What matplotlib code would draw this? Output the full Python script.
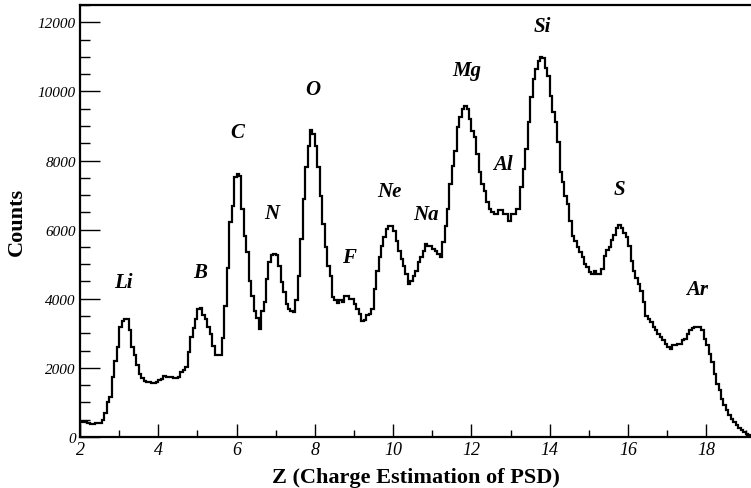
import numpy as np
import matplotlib.pyplot as plt
from matplotlib.ticker import MultipleLocator

plt.rcParams['font.family'] = ['Liberation Serif', 'DejaVu Serif']

# histogram of reconstructed charge, bins of 1/16 starting at Z = 2
z_start = 2.0
bin_width = 1 / 16
counts = [
    430, 440, 420, 400, 390, 390, 400, 410, 410, 480, 700, 1000, 1150, 1740, 2200, 2600,          # Z 2
    3190, 3350, 3420, 3400, 3110, 2600, 2360, 2090, 1830, 1700, 1630, 1600, 1600, 1570, 1560, 1600,  # Z 3
    1650, 1690, 1770, 1750, 1730, 1740, 1700, 1720, 1750, 1880, 1950, 2030, 2460, 2900, 3150, 3420,  # Z 4
    3700, 3730, 3530, 3400, 3190, 2990, 2640, 2380, 2360, 2380, 2860, 3800, 4900, 6210, 6675, 7510,  # Z 5
    7600, 7550, 6600, 5830, 5350, 4500, 4090, 3660, 3440, 3130, 3660, 3900, 4575, 5060, 5270, 5300,  # Z 6
    5280, 4960, 4480, 4190, 3850, 3690, 3640, 3620, 3950, 4670, 5730, 6890, 7800, 8430, 8890, 8770,  # Z 7
    8430, 7800, 6980, 6160, 5490, 4960, 4670, 4050, 3950, 3880, 3950, 3900, 4090, 4090, 4000, 4000,  # Z 8
    3850, 3700, 3560, 3370, 3380, 3520, 3564, 3708, 4286, 4815, 5202, 5540, 5780, 6020, 6117, 6100,  # Z 9
    5970, 5683, 5394, 5153, 4960, 4720, 4430, 4500, 4670, 4815, 5057, 5202, 5394, 5587, 5540, 5540,  # Z 10
    5442, 5394, 5298, 5202, 5635, 6117, 6598, 7320, 7850, 8284, 8960, 9250, 9490, 9584, 9490, 9200,  # Z 11
    8862, 8670, 8188, 7660, 7320, 7129, 6790, 6598, 6502, 6454, 6454, 6570, 6570, 6454, 6454, 6260,  # Z 12
    6454, 6454, 6598, 6598, 7225, 7755, 8332, 9104, 9826, 10355, 10644, 10885, 11000, 10980, 10673, 10451,  # Z 13
    9873, 9393, 9104, 8526, 7658, 7370, 6983, 6742, 6260, 5827, 5683, 5491, 5346, 5202, 5009, 4931,  # Z 14
    4768, 4720, 4815, 4720, 4720, 4850, 5250, 5400, 5500, 5700, 5850, 6050, 6120, 6050, 5900, 5780,  # Z 15
    5538, 5100, 4800, 4600, 4430, 4238, 3901, 3515, 3419, 3323, 3179, 3082, 2986, 2890, 2793, 2697,  # Z 16
    2600, 2552, 2648, 2648, 2697, 2697, 2793, 2850, 2986, 3082, 3150, 3179, 3179, 3179, 3082, 2841,  # Z 17
    2648, 2407, 2167, 1830, 1541, 1348, 1107, 914, 770, 625, 510, 433, 337, 260, 192, 145,          # Z 18
    96, 50, 20,                                                                                     # Z 19
]

elements = ["Li", "B", "C", "N", "O", "F", "Ne", "Na", "Mg", "Al", "Si", "S", "Ar"]

x_ticks = [2, 4, 6, 8, 10, 12, 14, 16, 18]
y_ticks = [0, 2000, 4000, 6000, 8000, 10000, 12000]

edges = z_start + bin_width * np.arange(len(counts) + 1)

fig = plt.figure(figsize=(7.51, 4.89), dpi=100)
ax = fig.add_axes([80 / 751, 1 - 438 / 489, 1 - 80 / 751, 432 / 489])

ax.stairs(counts, edges, color='black', linewidth=1.6)

ax.set_xlim(2, 19.14)
ax.set_ylim(0, 12500)

# element labels (text baseline positions, in data coordinates)
label_pos = [(3.12, 4350), (5.06, 4640), (6.01, 8680), (6.90, 6340), (7.95, 9920),
             (8.87, 5070), (9.91, 6980), (10.83, 6310), (11.88, 10470), (12.80, 7750),
             (13.82, 11740), (15.79, 7030), (17.75, 4140)]
for name, (zx, cy) in zip(elements, label_pos):
    ax.text(zx, cy, name, ha='center', va='baseline', fontsize=15,
            fontweight='bold', fontstyle='italic')

ax.set_xticks(x_ticks)
ax.set_yticks(y_ticks)
ax.xaxis.set_minor_locator(MultipleLocator(1))
ax.yaxis.set_minor_locator(MultipleLocator(500))
ax.tick_params(axis='both', which='both', direction='in', top=False, right=False)
ax.tick_params(axis='x', which='major', length=9.5, width=1, labelsize=13, pad=3)
ax.tick_params(axis='x', which='minor', length=5, width=1)
ax.tick_params(axis='y', which='major', length=14.5, width=1, labelsize=11, pad=3)
ax.tick_params(axis='y', which='minor', length=7.5, width=1)
for lab in ax.get_xticklabels() + ax.get_yticklabels():
    lab.set_fontstyle('italic')

for side in ['left', 'bottom', 'top']:
    ax.spines[side].set_linewidth(1.6)
ax.spines['right'].set_visible(False)

ax.set_xlabel("Z (Charge Estimation of PSD)", fontsize=16, fontweight='bold', labelpad=6)
ax.set_ylabel("Counts", fontsize=16, fontweight='bold', labelpad=8)

fig.savefig("out.png", dpi=100)
